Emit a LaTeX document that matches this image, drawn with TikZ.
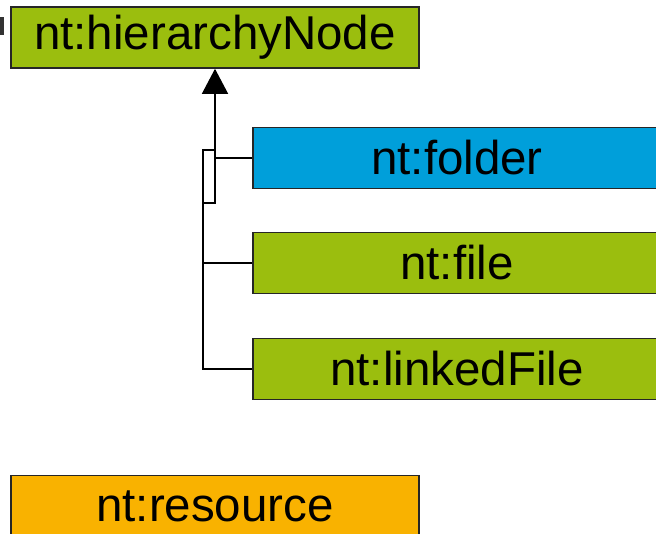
\documentclass[tikz,border=0pt]{standalone}
\usepackage{fontspec}
\setmainfont{Liberation Sans}
\usetikzlibrary{arrows.meta}
\definecolor{ntgreen}{RGB}{155,190,14}
\definecolor{ntblue}{RGB}{0,159,218}
\definecolor{ntorange}{RGB}{249,178,0}
\tikzset{
  ntbox/.style={draw=black!85,line width=1.6pt,minimum width=408pt,minimum height=61pt,
    inner sep=0pt,font=\fontsize{47.5}{52}\selectfont},
  link/.style={line width=1.4pt}
}
\begin{document}
\begin{tikzpicture}[x=1pt,y=-1pt]
            \useasboundingbox (0,0) rectangle (656,534);
            \clip (0,0) rectangle (656,534);
            % Boxes
            \fill [black!80] (0,17) rectangle (4,35);
            \node [ntbox,fill=ntgreen] (hier) at (215,37.5) {nt:hierarchyNode};
            \node [ntbox,fill=ntblue] (folder) at (457,158) {nt:folder};
            \node [ntbox,fill=ntgreen] (file) at (457,263) {nt:file};
            \node [ntbox,fill=ntgreen] (linked) at (457,369) {nt:linkedFile};
            \node [ntbox,fill=ntorange] (resource) at (215,506) {nt:resource};

            % Generalization
            \coordinate (top) at (203,150);
            \coordinate (bot) at (215,203);
            \draw [link] (linked.west) -- (linked.west -| top) -- (top) -- (top -| bot) -- (bot) -- (bot -| top);
            \draw [link] (file.west) -- (file.west -| top);
            \draw [link] (folder.west) -- (folder.west -| bot);
            \draw [link,-{Triangle[length=25pt,width=26pt]}] (bot) -- (hier.south);
        \end{tikzpicture}
\end{document}
